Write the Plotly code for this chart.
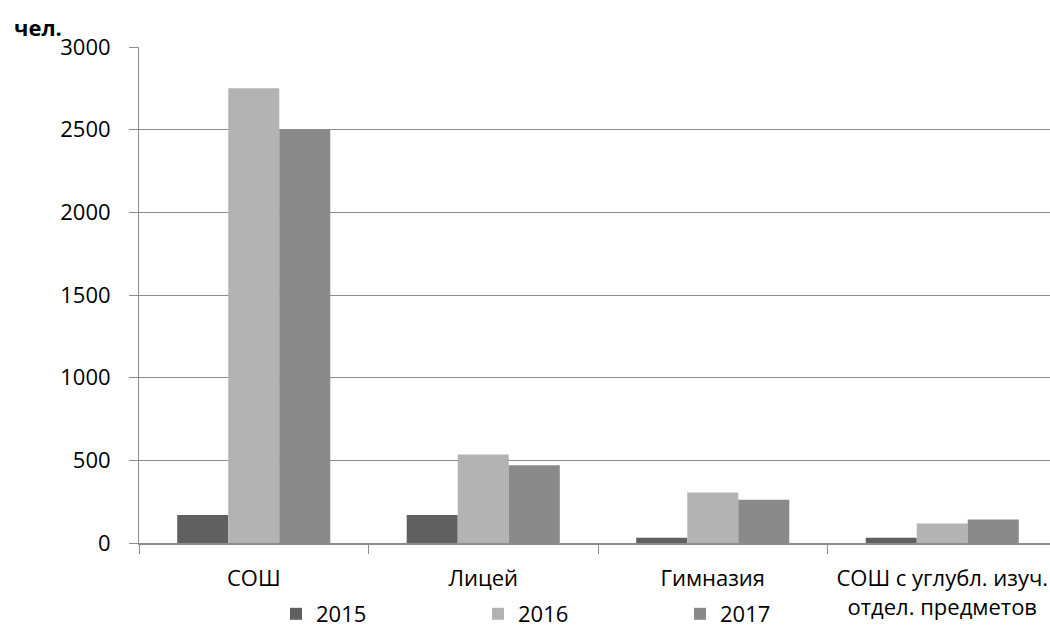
import plotly.graph_objects as go

# School types and pupil counts by year
categories = ["СОШ", "Лицей", "Гимназия", "СОШ с углубл. изуч.<br>отдел. предметов"]
years = ["2015", "2016", "2017"]
values_2015 = [170, 170, 32, 32]
values_2016 = [2750, 535, 305, 118]
values_2017 = [2500, 470, 262, 142]
y_ticks = [0, 500, 1000, 1500, 2000, 2500, 3000]

series = [values_2015, values_2016, values_2017]
colors = ["#606060", "#b3b3b3", "#8a8a8a"]

W, H = 1050, 628
ml, mt, mb, mr = 139, 47, 85, 0
plot_w = W - ml - mr
plot_h = H - mt - mb
cat_w = 229.5  # pixel width of one category slot

fig = go.Figure()
for year, vals, col in zip(years, series, colors):
    fig.add_trace(go.Bar(
        x=categories, y=vals, name=year,
        marker=dict(color=col, line=dict(width=0)),
    ))

font = dict(family="Open Sans", size=22, color="black")
axis_col = "#8c8c8c"

fig.update_layout(
    width=W, height=H,
    margin=dict(l=ml, r=mr, t=mt, b=mb, pad=0, autoexpand=False),
    paper_bgcolor="white", plot_bgcolor="white",
    font=font,
    barmode="group", bargap=0.333, bargroupgap=0,
    showlegend=True,
    legend=dict(
        orientation="h",
        x=(276 - ml) / plot_w, xanchor="left",
        y=-(614 - (mt + plot_h)) / plot_h, yanchor="middle",
        entrywidth=157, entrywidthmode="pixels",
        itemwidth=30,
        font=font, bgcolor="rgba(0,0,0,0)",
    ),
    xaxis=dict(
        type="category",
        range=[-0.5, -0.5 + plot_w / cat_w],
        showline=True, linecolor=axis_col, linewidth=2,
        ticks="outside", tickson="boundaries", ticklen=9,
        tickcolor=axis_col, tickwidth=1,
        showgrid=False, zeroline=False,
        ticklabelstandoff=15,
        tickfont=font,
    ),
    yaxis=dict(
        range=[0, 3000], tickvals=y_ticks,
        showline=True, linecolor=axis_col, linewidth=1,
        ticks="outside", ticklen=9, tickcolor=axis_col,
        showgrid=True, gridcolor=axis_col, gridwidth=1,
        zeroline=False,
        ticklabelstandoff=14,
        tickfont=font,
    ),
    annotations=[dict(
        text="<b>чел.</b>", xref="paper", yref="paper",
        x=(12 - ml) / plot_w, y=(mt + plot_h - 27) / plot_h,
        xanchor="left", yanchor="middle", showarrow=False,
        font=font,
    )],
)

fig.write_html("out.html")
